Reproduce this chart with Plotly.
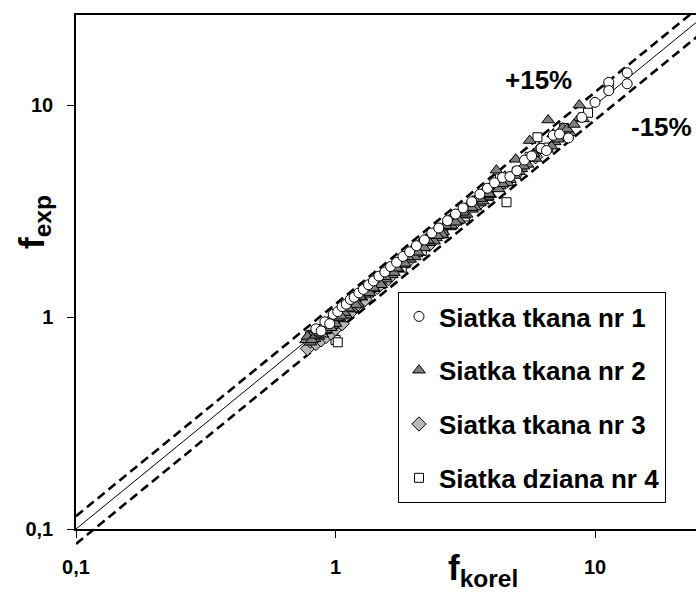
import math
import plotly.graph_objects as go

# --- data: f_korel (x) vs f_exp (y) for four mesh types ---
x_tkana1 = [0.84, 0.88, 0.91, 0.95, 0.98, 1.02, 1.06, 1.10, 1.14, 1.18, 1.23, 1.28, 1.34, 1.40,
            1.47, 1.55, 1.63, 1.72, 1.82, 1.93, 2.05, 2.2, 2.35, 2.5, 2.7, 2.9, 3.1, 3.35, 3.6,
            3.85, 4.1, 4.4, 4.7, 5.0, 5.35, 5.7, 6.2, 6.5, 6.9, 7.3, 7.9, 8.9, 10.0, 11.3, 11.3,
            13.3, 13.3]
y_tkana1 = [0.88, 0.86, 0.95, 0.93, 1.03, 1.06, 1.12, 1.15, 1.21, 1.24, 1.30, 1.35, 1.42, 1.48,
            1.56, 1.63, 1.73, 1.81, 1.93, 2.03, 2.17, 2.31, 2.49, 2.63, 2.85, 3.06, 3.27, 3.50, 3.80,
            4.05, 4.30, 4.55, 4.60, 4.9, 5.5, 5.75, 6.25, 6.1, 7.2, 7.3, 7.0, 8.75, 10.3, 12.8, 11.7,
            14.2, 12.6]

x_tkana2 = [0.77, 0.79, 0.80, 0.82, 0.83, 0.85, 0.86, 0.88, 0.90, 0.91, 0.93, 0.95, 0.97, 0.99,
            1.01, 1.04, 1.07, 1.10, 1.13, 1.16, 1.19, 1.22, 1.26, 1.30, 1.33, 1.37, 1.41, 1.45,
            1.49, 1.53, 1.57, 1.61, 1.65, 1.70, 1.74, 1.79, 1.84, 1.89, 1.94, 1.99, 2.05, 2.11,
            2.17, 2.23, 2.30, 2.37, 2.44, 2.52, 2.60, 2.68, 2.76, 2.85, 2.94, 3.04, 3.14, 3.25,
            3.36, 3.48, 3.60, 3.73, 3.86, 4.0, 4.17, 4.3, 4.5, 4.7, 4.95, 5.2, 5.6, 5.9, 6.3,
            6.6, 7.0, 7.5, 8.0, 8.7, 8.7,
            1.08, 1.2, 1.35, 1.5, 1.68, 1.85, 2.02, 2.2, 2.4, 2.58, 2.8, 3.0, 3.2, 3.45, 3.7,
            3.95, 4.25, 4.6, 5.1, 5.5, 6.8, 7.2, 9.0,
            1.12, 1.24, 1.4, 1.55, 1.72, 1.9, 2.08, 2.27, 2.47, 2.66, 2.9, 3.1, 3.35, 3.6, 3.9,
            4.4, 4.9, 5.3, 5.8, 6.1, 6.9, 7.8, 8.3,
            0.78, 0.81, 0.84, 0.87, 0.89, 0.92, 0.94, 0.96, 0.98, 1.0, 1.02, 1.05]
y_tkana2 = [0.78, 0.82, 0.76, 0.84, 0.79, 0.87, 0.81, 0.85, 0.92, 0.86, 0.90, 0.97, 0.91, 0.95,
            1.03, 0.98, 1.06, 1.02, 1.16, 1.09, 1.22, 1.15, 1.24, 1.35, 1.28, 1.42, 1.36, 1.47,
            1.44, 1.60, 1.51, 1.66, 1.58, 1.76, 1.69, 1.86, 1.77, 1.96, 1.87, 2.10, 1.98, 2.22,
            2.12, 2.33, 2.24, 2.48, 2.36, 2.62, 2.52, 2.78, 2.66, 2.97, 2.83, 3.15, 3.02, 3.37,
            3.22, 3.58, 3.45, 3.90, 3.70, 4.12, 4.93, 4.15, 4.62, 4.45, 5.55, 5.0, 6.8, 5.6, 6.1,
            8.5, 6.7, 7.8, 7.4, 10.0, 8.7,
            1.05, 1.14, 1.30, 1.42, 1.62, 1.79, 1.92, 2.12, 2.28, 2.45, 2.70, 2.86, 3.05, 3.30, 3.52,
            3.78, 4.02, 4.3, 4.85, 5.25, 6.4, 6.9, 8.6,
            1.10, 1.25, 1.37, 1.55, 1.70, 1.92, 2.02, 2.30, 2.42, 2.70, 2.80, 3.12, 3.28, 3.62, 3.82,
            4.25, 4.65, 5.15, 5.9, 6.3, 7.3, 7.7, 8.1,
            0.81, 0.78, 0.82, 0.84, 0.83, 0.87, 0.93, 0.89, 0.96, 0.93, 0.99, 1.01]

x_tkana3 = [0.78, 0.80, 0.82, 0.84, 0.86, 0.88, 0.90, 0.92, 0.94, 0.96, 0.98, 1.0, 1.03, 1.06,
            1.1, 1.15, 1.2, 1.3, 1.45, 1.6, 1.9, 2.3, 2.9, 3.6, 4.6, 5.9, 7.6]
y_tkana3 = [0.71, 0.77, 0.80, 0.75, 0.82, 0.78, 0.85, 0.81, 0.88, 0.84, 0.91, 0.88, 0.97, 0.93,
            1.02, 1.06, 1.13, 1.21, 1.38, 1.52, 1.83, 2.2, 2.8, 3.45, 4.4, 5.7, 7.3]

x_dziana4 = [0.80, 0.85, 0.92, 0.98, 1.0, 1.02, 1.08, 1.15, 1.25, 1.36, 1.5, 1.65, 1.8, 1.98,
             2.15, 2.35, 2.6, 2.85, 3.15, 3.5, 3.9, 4.56, 4.3, 5.0, 5.6, 6.0, 6.6, 7.6, 9.4, 11.3]
y_dziana4 = [0.82, 0.80, 0.89, 0.84, 0.78, 0.76, 1.02, 1.12, 1.18, 1.34, 1.43, 1.66, 1.71, 2.0,
             2.05, 2.42, 2.48, 2.9, 2.98, 3.55, 3.72, 3.48, 4.5, 4.85, 5.7, 7.05, 6.3, 7.8, 9.2, 12.0]

series_names = ["Siatka tkana nr 1", "Siatka tkana nr 2", "Siatka tkana nr 3", "Siatka dziana nr 4"]

# reference lines y = k * x
ref_x = [0.1, 30.0]
ref_factors = [1.0, 1.15, 0.85]
band_labels = ["+15%", "-15%"]

tick_vals = [0.1, 1, 10]
tick_text = ["0,1", "1", "10"]

# --- layout geometry ---
W, H = 696, 594
ML, MR, MT, MB = 76, 0, 15, 44
X_RANGE = [math.log10(0.1), math.log10(24.5)]
Y_RANGE = [math.log10(0.1), math.log10(26.6)]
plot_h = H - MT - MB
plot_w = W - ML - MR
frame_h = 514
d0 = 1 - frame_h / plot_h
span = Y_RANGE[1] - Y_RANGE[0]
Y2_RANGE = [Y_RANGE[0] - d0 * span / (1 - d0), Y_RANGE[1]]


def px_x(p):
    return (p - ML) / plot_w


def px_y(p):
    return (H - MB - p) / plot_h


FONT = "Liberation Sans"

fig = go.Figure()

# empty trace so the framed x/y subplot is created
fig.add_trace(go.Scatter(x=[], y=[], xaxis="x", yaxis="y", showlegend=False, hoverinfo="skip"))

# reference lines (drawn on an overlay axis that reaches a little below the frame)
for k in ref_factors:
    fig.add_trace(go.Scatter(
        x=ref_x, y=[v * k for v in ref_x], mode="lines", yaxis="y2",
        line=dict(color="black", width=1 if k == 1.0 else 2.6,
                  dash="solid" if k == 1.0 else "9px,5px"),
        showlegend=False, hoverinfo="skip"))

styles = [
    dict(symbol="circle", color="white", size=10),
    dict(symbol="triangle-up", color="#7f7f7f", size=11),
    dict(symbol="diamond", color="#b8b8b8", size=11),
    dict(symbol="square", color="white", size=9),
]
data = [(x_tkana1, y_tkana1), (x_tkana2, y_tkana2), (x_tkana3, y_tkana3), (x_dziana4, y_dziana4)]

# draw order: squares, diamonds, triangles, circles on top; legend keeps series order
draw_order = [3, 2, 1, 0]
for i in draw_order:
    (xs, ys), name, st = data[i], series_names[i], styles[i]
    fig.add_trace(go.Scatter(
        x=xs, y=ys, mode="markers", name=name, yaxis="y2", legendgroup=f"g{i}",
        legendrank=i + 1,
        marker=dict(symbol=st["symbol"], color=st["color"], size=st["size"],
                    line=dict(color="black", width=1))))

axis_common = dict(
    type="log", showgrid=False, zeroline=False, showline=True, linecolor="black",
    linewidth=1.5, ticks="outside", ticklen=7, tickwidth=1.2, tickcolor="black",
    tickvals=tick_vals, ticktext=tick_text,
    tickfont=dict(family=FONT, size=20, color="black", weight="bold"),
)

ann_font = dict(family=FONT, size=26, color="black", weight="bold")
title_font = dict(family=FONT, size=35, color="black", weight="bold")

fig.update_layout(
    width=W, height=H,
    margin=dict(l=ML, r=MR, t=MT, b=MB),
    paper_bgcolor="white", plot_bgcolor="rgba(0,0,0,0)",
    xaxis=dict(range=X_RANGE, anchor="y", mirror=True, ticklabelstandoff=12, **axis_common),
    yaxis=dict(range=Y_RANGE, domain=[d0, 1], anchor="x", mirror=False,
               ticklabelstandoff=10, **axis_common),
    yaxis2=dict(type="log", range=Y2_RANGE, domain=[0, 1], anchor="x", visible=False),
    showlegend=True,
    legend=dict(x=px_x(398), y=px_y(292), xanchor="left", yanchor="top",
                bgcolor="white", bordercolor="black", borderwidth=1,
                font=dict(family=FONT, size=26, color="black", weight="bold"),
                tracegroupgap=17, itemwidth=30, traceorder="grouped"),
    annotations=[
        dict(text=band_labels[0], x=px_x(538), y=px_y(80), xref="paper", yref="paper",
             xanchor="center", yanchor="middle", showarrow=False, font=ann_font),
        dict(text=band_labels[1], x=px_x(661), y=px_y(127), xref="paper", yref="paper",
             xanchor="center", yanchor="middle", showarrow=False, font=ann_font),
        dict(text="f<sub>korel</sub>", x=px_x(483), y=px_y(570), xref="paper", yref="paper",
             xanchor="center", yanchor="middle", showarrow=False, font=title_font),
        dict(text="f<sub>exp</sub>", x=px_x(34), y=px_y(222), xref="paper", yref="paper",
             xanchor="center", yanchor="middle", textangle=-90, showarrow=False,
             font=title_font),
    ],
)

fig.write_html("out.html")
